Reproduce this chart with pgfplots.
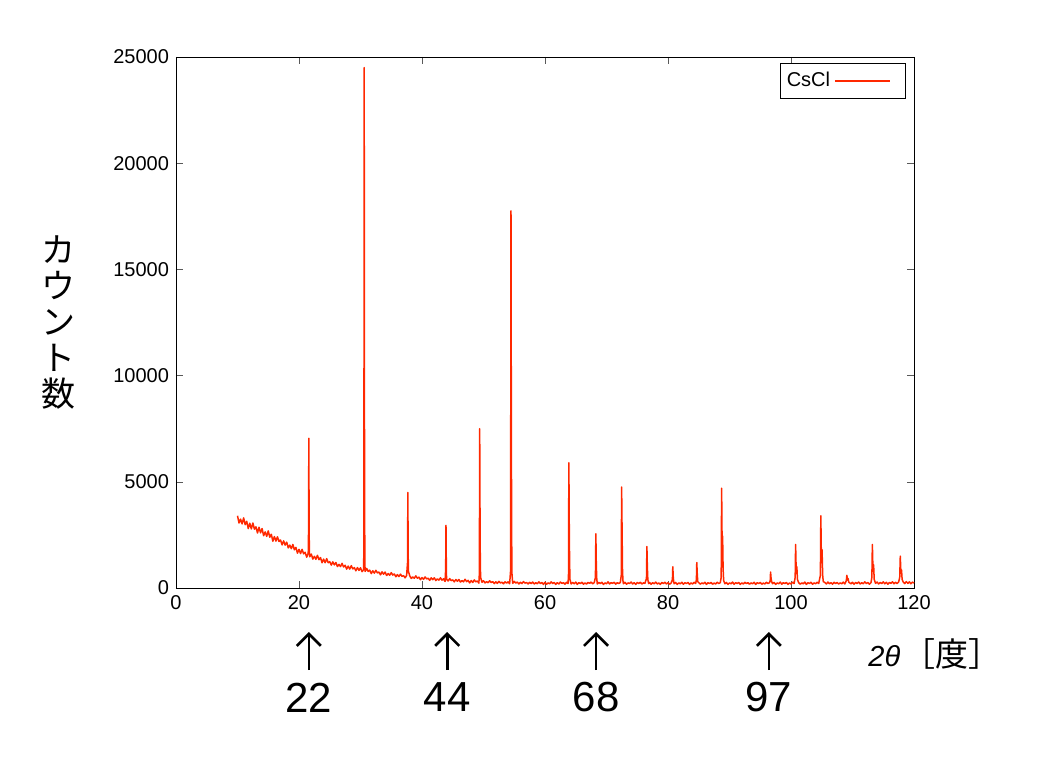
\documentclass[border=0pt]{standalone}
\usepackage{fontspec}
\setmainfont{Liberation Sans}
\newfontfamily\jp{Noto Sans CJK JP}
\usepackage{pgfplots}
\pgfplotsset{compat=1.18}
\usetikzlibrary{arrows.meta}
\definecolor{xrd}{RGB}{255,40,0}
\begin{document}
\begin{tikzpicture}
\begin{axis}[
  scale only axis, width=369pt, height=265.5pt,
  xmin=0, xmax=120, ymin=0, ymax=25000,
  xtick={0,20,...,120}, ytick={0,5000,...,25000},
  scaled y ticks=false,
  /pgf/number format/1000 sep={},
  /pgf/number format/assume math mode=true,
  tick align=inside, major tick length=3.5pt,
  tick style={black!65},
  tick label style={font=\fontsize{10}{12}\selectfont},
  clip=false,
  legend style={at={(1,1)}, anchor=north east, xshift=-4pt, yshift=-3pt,
    font=\fontsize{10}{12}\selectfont, draw=black, inner xsep=1pt, inner ysep=2.5pt},
  legend plot pos=right,
  legend image code/.code={\draw[#1] (3pt,0pt) -- (30.5pt,0pt); \path (37pt,0pt);},
]
\addplot[color=xrd, line width=0.75pt, line join=round] coordinates {
(10.00,3400) (10.25,3060) (10.50,3240) (10.75,3020) (11.00,3300) (11.25,2980) (11.50,3140) (11.75,2800)
(12.00,3050) (12.25,2780) (12.50,3060) (12.75,2770) (13.00,2880) (13.25,2590) (13.50,2860) (13.75,2600)
(14.00,2800) (14.25,2460) (14.50,2640) (14.75,2430) (15.00,2690) (15.25,2390) (15.50,2530) (15.75,2200)
(16.00,2420) (16.25,2210) (16.50,2410) (16.75,2190) (17.00,2260) (17.25,2030) (17.50,2220) (17.75,2020)
(18.00,2160) (18.25,1890) (18.50,2020) (18.75,1850) (19.00,2050) (19.25,1800) (19.50,1910) (19.75,1640)
(20.00,1820) (20.25,1620) (20.50,1820) (20.75,1610) (21.00,1680) (21.25,1450) (21.50,1640)
(21.55,2600) (21.60,7050) (21.64,3300) (21.68,1700)
(21.75,1470) (22.00,1600) (22.25,1360) (22.50,1490) (22.75,1350) (23.00,1540) (23.25,1330) (23.50,1430)
(23.75,1190) (24.00,1360) (24.25,1190) (24.50,1380) (24.75,1190) (25.00,1240) (25.25,1080) (25.50,1230)
(25.75,1090) (26.00,1200) (26.25,1010) (26.50,1110) (26.75,1010) (27.00,1160) (27.25,990) (27.50,1070)
(27.75,890) (28.00,1030) (28.25,890) (28.50,1050) (28.75,900) (29.00,960) (29.25,810) (29.50,960)
(29.75,830) (30.00,950) (30.25,770) (30.50,860)
(30.55,1800) (30.60,24500) (30.64,9000) (30.68,3000) (30.72,1100)
(30.75,780) (31.00,920) (31.25,780) (31.50,840) (31.75,680) (32.00,810) (32.25,700) (32.50,830)
(32.75,710) (33.00,750) (33.25,620) (33.50,760) (33.75,650) (34.00,750) (34.25,590) (34.50,680)
(34.75,600) (35.00,720) (35.25,610) (35.50,660) (35.75,530) (36.00,630) (36.25,540) (36.50,650)
(36.75,550) (37.00,580) (37.25,480) (37.50,590)
(37.65,1200) (37.70,4500) (37.74,2200) (37.78,800)
(38.00,580) (38.25,450) (38.50,520) (38.75,460) (39.00,570) (39.25,460) (39.50,510) (39.75,390)
(40.00,490) (40.25,410) (40.50,520) (40.75,430) (41.00,460) (41.25,360) (41.50,480) (41.75,390)
(42.00,480) (42.25,350) (42.50,430) (42.75,370) (43.00,480) (43.25,370) (43.50,430) (43.75,310)
(43.85,900) (43.90,2950) (43.94,1500) (43.98,600)
(44.00,410) (44.25,330) (44.50,440) (44.75,350) (45.00,380) (45.25,290) (45.50,400) (45.75,320)
(46.00,400) (46.25,280) (46.50,350) (46.75,290) (47.00,410) (47.25,300) (47.50,360) (47.75,240)
(48.00,350) (48.25,260) (48.50,380) (48.75,290) (49.00,330) (49.25,230)
(49.33,700) (49.38,7500) (49.43,3800) (49.48,1200) (49.53,500)
(49.75,270) (50.00,340) (50.25,240) (50.50,300) (50.75,250) (51.00,340) (51.25,260) (51.50,300)
(51.75,210) (52.00,290) (52.25,220) (52.50,310) (52.75,240) (53.00,270) (53.25,200) (53.50,290)
(53.75,230) (54.00,290) (54.25,200)
(54.40,800) (54.47,17750) (54.52,9000) (54.57,3000) (54.62,700)
(54.75,220) (55.00,310) (55.25,230) (55.50,280) (55.75,190) (56.00,270) (56.25,210) (56.50,300)
(56.75,230) (57.00,260) (57.25,190) (57.50,270) (57.75,210) (58.00,280) (58.25,190) (58.50,250)
(58.75,200) (59.00,290) (59.25,210) (59.50,260) (59.75,170)
(60.00,270) (60.25,180) (60.50,240) (60.75,200) (61.00,290) (61.25,210) (61.50,260) (61.75,170)
(62.00,250) (62.25,190) (62.50,280) (62.75,220) (63.00,250) (63.25,180) (63.50,270) (63.75,210)
(63.82,600) (63.88,5900) (63.94,3100) (64.00,1200) (64.06,400)
(64.25,190) (64.50,260) (64.75,200) (65.00,280) (65.25,170) (65.50,250) (65.75,210) (66.00,270)
(66.25,180) (66.50,240) (66.75,190) (67.00,260) (67.25,220) (67.50,280) (67.75,200) (68.00,250)
(68.20,500) (68.27,2550) (68.33,1300) (68.40,500)
(68.50,190) (68.75,260) (69.00,210) (69.25,270) (69.50,170) (69.75,240) (70.00,200) (70.25,290)
(70.50,190) (70.75,250) (71.00,220) (71.25,270) (71.50,180) (71.75,250) (72.00,210) (72.25,260)
(72.40,600) (72.46,4750) (72.53,2800) (72.60,900) (72.67,350)
(72.75,200) (73.00,270) (73.25,180) (73.50,240) (73.75,210) (74.00,280) (74.25,190) (74.50,250)
(74.75,170) (75.00,260) (75.25,210) (75.50,270) (75.75,190) (76.00,240) (76.25,220)
(76.50,450) (76.57,1950) (76.64,1000) (76.72,400)
(76.85,210) (77.00,260) (77.25,180) (77.50,250) (77.75,200) (78.00,280) (78.25,190) (78.50,240)
(78.75,170) (79.00,260) (79.25,210) (79.50,270) (79.75,190) (80.00,250) (80.25,180) (80.50,230)
(80.72,400) (80.78,1000) (80.85,550) (80.92,300)
(81.00,200) (81.25,260) (81.50,170) (81.75,240) (82.00,200) (82.25,270) (82.50,180) (82.75,250)
(83.00,210) (83.25,260) (83.50,170) (83.75,240) (84.00,190) (84.25,270) (84.50,210)
(84.62,400) (84.68,1200) (84.76,650) (84.84,300)
(85.00,250) (85.25,180) (85.50,240) (85.75,200) (86.00,270) (86.25,170) (86.50,250) (86.75,210)
(87.00,260) (87.25,180) (87.50,230) (87.75,190) (88.00,270) (88.25,210) (88.50,250)
(88.65,500) (88.72,4700) (88.80,2000) (88.88,2450) (88.96,900) (89.05,350)
(89.25,200) (89.50,260) (89.75,170) (90.00,240) (90.25,200) (90.50,280) (90.75,180) (91.00,250)
(91.25,210) (91.50,260) (91.75,170) (92.00,240) (92.25,190) (92.50,270) (92.75,210) (93.00,250)
(93.25,180) (93.50,240) (93.75,200) (94.00,270) (94.25,170) (94.50,250) (94.75,210) (95.00,260)
(95.25,180) (95.50,230) (95.75,190) (96.00,270) (96.25,210) (96.50,250)
(96.62,350) (96.68,750) (96.76,450) (96.86,300)
(97.00,200) (97.25,260) (97.50,170) (97.75,240) (98.00,200) (98.25,280) (98.50,180) (98.75,250)
(99.00,210) (99.25,260) (99.50,170) (99.75,240) (100.00,190) (100.25,270) (100.50,210)
(100.68,500) (100.75,2050) (100.85,700) (100.95,1000) (101.05,400)
(101.25,250) (101.50,180) (101.75,240) (102.00,200) (102.25,280) (102.50,170) (102.75,250) (103.00,210)
(103.25,270) (103.50,180) (103.75,240) (104.00,200) (104.25,270) (104.50,210)
(104.78,600) (104.85,3400) (104.95,1200) (105.05,1800) (105.15,600) (105.25,300)
(105.50,260) (105.75,190) (106.00,280) (106.25,200) (106.50,250) (106.75,180) (107.00,270) (107.25,210)
(107.50,260) (107.75,190) (108.00,240) (108.25,200) (108.50,280) (108.75,190)
(109.00,350) (109.08,600) (109.18,380) (109.28,450) (109.38,280)
(109.50,250) (109.75,200) (110.00,270) (110.25,180) (110.50,260) (110.75,210) (111.00,280) (111.25,190)
(111.50,250) (111.75,200) (112.00,290) (112.25,210) (112.50,260) (112.75,180) (113.00,250)
(113.15,500) (113.23,2050) (113.33,800) (113.43,1100) (113.53,400)
(113.75,220) (114.00,280) (114.25,190) (114.50,260) (114.75,210) (115.00,290) (115.25,200) (115.50,270)
(115.75,180) (116.00,260) (116.25,220) (116.50,290) (116.75,200) (117.00,270) (117.25,210) (117.50,280)
(117.68,500) (117.77,1500) (117.87,700) (117.97,850) (118.07,400)
(118.25,280) (118.50,210) (118.75,300) (119.00,220) (119.25,290) (119.50,200) (119.75,280) (120.00,230)
};
\addlegendentry{CsCl}
\draw[line width=1.3pt, -{Straight Barb[length=6pt,width=12pt]}] ([yshift=-41pt]axis cs:21.6,0) -- ([yshift=-22pt]axis cs:21.6,0);
\draw[line width=1.3pt, -{Straight Barb[length=6pt,width=12pt]}] ([yshift=-41pt]axis cs:44.1,0) -- ([yshift=-22pt]axis cs:44.1,0);
\draw[line width=1.3pt, -{Straight Barb[length=6pt,width=12pt]}] ([yshift=-41pt]axis cs:68.3,0) -- ([yshift=-22pt]axis cs:68.3,0);
\draw[line width=1.3pt, -{Straight Barb[length=6pt,width=12pt]}] ([yshift=-41pt]axis cs:96.4,0) -- ([yshift=-22pt]axis cs:96.4,0);
\node[font=\fontsize{21}{25}\selectfont] at ([yshift=-54.75pt]axis cs:21.6,0) {22};
\node[font=\fontsize{21}{25}\selectfont] at ([yshift=-54.75pt]axis cs:44.1,0) {44};
\node[font=\fontsize{21}{25}\selectfont] at ([yshift=-54.75pt]axis cs:68.3,0) {68};
\node[font=\fontsize{21}{25}\selectfont] at ([yshift=-54.75pt]axis cs:96.4,0) {97};
\end{axis}
\node[anchor=west, inner sep=0pt] at ([shift={(-23pt,-33pt)}]current axis.south east)
  {{\fontsize{14.5}{16}\selectfont\itshape 2θ}\hspace{1pt}{\jp\fontsize{16.5}{18}\selectfont ［度］}};
\node[align=center, inner sep=0pt, font=\jp\fontsize{17}{18}\selectfont]
  at ([shift={(-58.5pt,132.5pt)}]current axis.south west) {カ\\ウ\\ン\\ト\\数};
\path ([shift={(-88pt,-89pt)}]current axis.south west) rectangle ([shift={(434pt,294pt)}]current axis.south west);
\end{tikzpicture}
\end{document}
